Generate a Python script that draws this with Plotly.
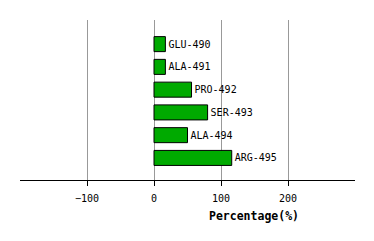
import plotly.graph_objects as go

residues = ["GLU-490", "ALA-491", "PRO-492", "SER-493", "ALA-494", "ARG-495"]
percentages = [17, 17, 56, 80, 50, 116]
x_ticks = [-100, 0, 100, 200]

fig = go.Figure(go.Bar(
    y=residues,
    x=percentages,
    orientation="h",
    width=0.66,
    marker=dict(color="#00aa00", line=dict(color="black", width=1)),
    text=residues,
    textposition="outside",
    textfont=dict(family="DejaVu Sans Mono", size=10, color="black"),
    cliponaxis=False,
    hoverinfo="skip",
))

fig.update_layout(
    width=374, height=241,
    margin=dict(l=20, r=19, t=20, b=61),
    paper_bgcolor="white", plot_bgcolor="white",
    showlegend=False,
    xaxis=dict(
        range=[-200, 300],
        tickvals=x_ticks,
        ticktext=["\u2212100", "0", "100", "200"],
        showgrid=True, gridcolor="#999999", gridwidth=1,
        zeroline=False,
        showline=True, linecolor="black", linewidth=1,
        ticks="outside", ticklen=5, tickcolor="black",
        ticklabelstandoff=4,
        tickfont=dict(family="DejaVu Sans Mono", size=10, color="black"),
        fixedrange=True,
    ),
    yaxis=dict(
        type="category",
        categoryorder="array", categoryarray=residues,
        range=[5.97, -1.06],
        showticklabels=False, showgrid=False, zeroline=False, showline=False,
        ticks="",
    ),
    annotations=[dict(
        text="<b>Percentage(%)</b>",
        x=0.699, xref="paper", y=-0.225, yref="paper",
        xanchor="center", yanchor="middle", showarrow=False,
        font=dict(family="DejaVu Sans Mono", size=11.5, color="black"),
    )],
)

fig.write_html("out.html")
